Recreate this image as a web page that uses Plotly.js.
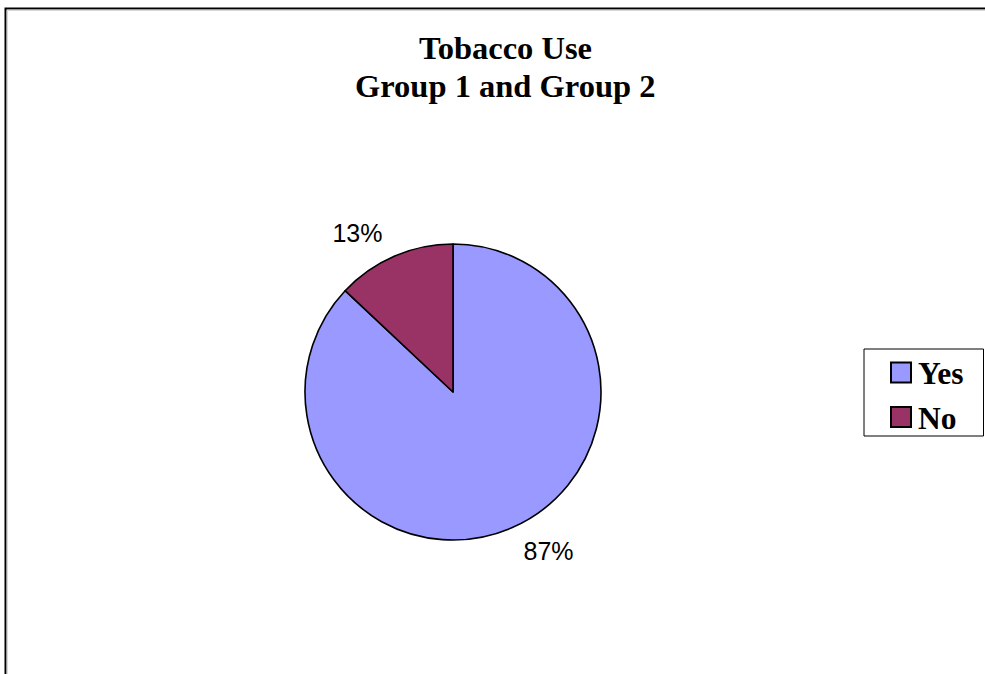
<!DOCTYPE html>
<html>
<head>
<meta charset="utf-8">
<script src="https://cdn.plot.ly/plotly-3.0.1.min.js"></script>
<style>html,body{margin:0;padding:0;background:#fff;}#chart{width:985px;height:674px;}</style>
</head>
<body>
<div id="chart"></div>
<script>
const labels = ["Yes", "No"];
const values = [87, 13];
const colors = ["#9999FF", "#993366"];
const titleLines = ["Tobacco Use", "Group 1 and Group 2"];

const W = 985, H = 674;
const px = x => x / W;
const py = y => 1 - y / H;
const CX = 453, CY = 392, R = 148, RL = 160;

const pie = {
  type: "pie",
  labels: labels,
  values: values,
  sort: false,
  direction: "clockwise",
  rotation: 0,
  marker: { colors: colors, line: { color: "#000000", width: 1.6 } },
  textinfo: "none",
  domain: { x: [px(CX - R), px(CX + R)], y: [py(CY + R), py(CY - R)] },
  hoverinfo: "label+percent",
  showlegend: false
};
// transparent companion pie, slightly larger, only carries the outside percent labels
const labelPie = {
  type: "pie",
  labels: labels,
  values: values,
  sort: false,
  direction: "clockwise",
  rotation: 0,
  marker: { colors: ["rgba(0,0,0,0)", "rgba(0,0,0,0)"], line: { width: 0 } },
  textinfo: "percent",
  textposition: "outside",
  outsidetextfont: { family: "Liberation Sans, Arial, sans-serif", size: 25, color: "#000000" },
  domain: { x: [px(CX - RL), px(CX + RL)], y: [py(CY + RL), py(CY - RL)] },
  hoverinfo: "skip",
  showlegend: false
};

const shapes = [
  { type: "rect", xref: "paper", yref: "paper", x0: px(5.5), y0: py(8.5), x1: 1.05, y1: -0.05,
    line: { color: "#000000", width: 2 }, fillcolor: "rgba(0,0,0,0)" },
  { type: "rect", xref: "paper", yref: "paper", x0: px(7.2), y0: py(10.2), x1: 1.05, y1: -0.05,
    line: { color: "#c8c8c8", width: 1 }, fillcolor: "rgba(0,0,0,0)" },
  { type: "rect", xref: "paper", yref: "paper", x0: px(864), y0: py(349), x1: px(983.5), y1: py(436),
    line: { color: "#000000", width: 1 }, fillcolor: "#ffffff" }
];
const annotations = [];
const rowY = [372.5, 417];
labels.forEach((lab, i) => {
  shapes.push({ type: "rect", xref: "paper", yref: "paper",
    x0: px(891), x1: px(911), y0: py(rowY[i] - 10), y1: py(rowY[i] + 10),
    line: { color: "#000000", width: 2 }, fillcolor: colors[i] });
  annotations.push({ xref: "paper", yref: "paper", x: px(916), y: py(rowY[i] + 1),
    xanchor: "left", yanchor: "middle", showarrow: false, text: "<b>" + lab + "</b>",
    font: { family: "Liberation Serif, Times New Roman, serif", size: 31.5, color: "#000000" } });
});
const titleY = [48, 86];
titleLines.forEach((t, i) => {
  annotations.push({ xref: "paper", yref: "paper", x: px(505), y: py(titleY[i]),
    xanchor: "center", yanchor: "middle", showarrow: false, text: "<b>" + t + "</b>",
    font: { family: "Liberation Serif, Times New Roman, serif", size: 32.5, color: "#000000" } });
});

const layout = {
  width: W, height: H,
  margin: { l: 0, r: 0, t: 0, b: 0 },
  paper_bgcolor: "#ffffff",
  plot_bgcolor: "#ffffff",
  shapes: shapes,
  annotations: annotations,
  showlegend: false
};

Plotly.newPlot("chart", [pie, labelPie], layout, { displayModeBar: false, staticPlot: true });
</script>
</body>
</html>
